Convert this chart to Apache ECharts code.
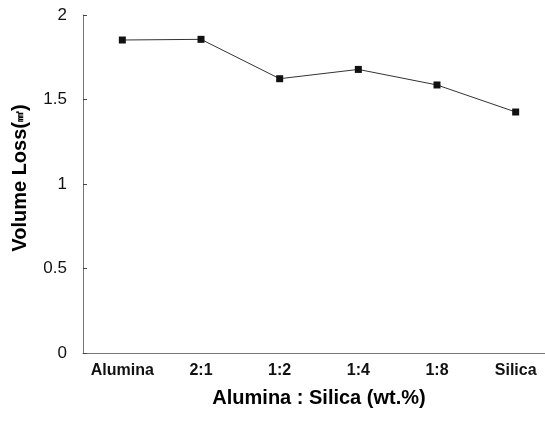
<!DOCTYPE html>
<html><head><meta charset="utf-8">
<script src="https://cdn.jsdelivr.net/npm/echarts@6/dist/echarts.min.js"></script>
<style>html,body{margin:0;padding:0;background:#fff}#c{width:545px;height:421px}</style>
</head><body><div id="c"></div>
<script>
const categories = ['Alumina', '2:1', '1:2', '1:4', '1:8', 'Silica'];
const volumeLoss = [1.852, 1.856, 1.623, 1.678, 1.586, 1.426];
const yTicks = [0, 0.5, 1, 1.5, 2];

const chart = echarts.init(document.getElementById('c'), null, {renderer: 'canvas'});
const axisColor = '#777';
chart.setOption({
  backgroundColor: '#fff',
  animation: false,
  grid: {left: 83, top: 15, width: 472, height: 338, containLabel: false, outerBoundsMode: 'none'},
  xAxis: {
    type: 'category',
    data: categories,
    boundaryGap: true,
    name: 'Alumina : Silica (wt.%)',
    nameLocation: 'middle',
    nameGap: 35,
    nameTextStyle: {fontFamily: 'Liberation Sans', fontWeight: 'bold', fontSize: 20, color: '#000'},
    axisLine: {lineStyle: {color: axisColor, width: 1}},
    axisTick: {inside: true, length: 4, interval: 0, lineStyle: {color: '#444'}},
    axisLabel: {interval: 0, hideOverlap: false, margin: 10, fontFamily: 'Liberation Sans', fontSize: 16, fontWeight: 'bold', color: '#111'},
    splitLine: {show: false}
  },
  yAxis: {
    type: 'value',
    min: yTicks[0],
    max: yTicks[yTicks.length - 1],
    interval: 0.5,
    name: '{a|Volume Loss(}{b|㎣}{a|)}',
    nameLocation: 'middle',
    nameGap: 53,
    nameRotate: 90,
    nameTextStyle: {
      padding: [0, 0, 0, 12],
      rich: {
        a: {fontFamily: 'Liberation Sans', fontWeight: 'bold', fontSize: 20, color: '#000'},
        b: {fontFamily: 'Liberation Sans', fontWeight: 'bold', fontSize: 11, color: '#000'}
      }
    },
    axisLine: {show: true, lineStyle: {color: axisColor, width: 1}},
    axisTick: {show: true, inside: true, length: 4, lineStyle: {color: '#444'}},
    axisLabel: {margin: 16, fontFamily: 'Liberation Sans', fontSize: 17, color: '#111'},
    splitLine: {show: false}
  },
  series: [{
    type: 'line',
    data: volumeLoss,
    symbol: 'rect',
    symbolSize: 7,
    itemStyle: {color: '#111'},
    lineStyle: {color: '#333', width: 1},
    z: 5
  }]
});
</script></body></html>
